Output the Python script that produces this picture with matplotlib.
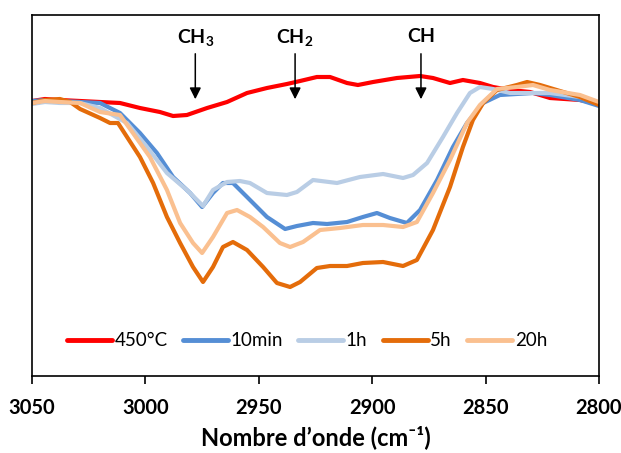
import numpy as np
import matplotlib
matplotlib.use("Agg")
import matplotlib.pyplot as plt

plt.rcParams['font.family'] = ['Lato', 'DejaVu Sans']
plt.rcParams['mathtext.fontset'] = 'custom'
plt.rcParams['mathtext.rm'] = 'Lato:bold'
plt.rcParams['mathtext.it'] = 'Lato:bold'
plt.rcParams['mathtext.bf'] = 'Lato:bold'

# spectres (nombre d'onde en cm-1, signal en unites arbitraires)
wn_450 = [3050, 3044.3, 3037.7, 3028.8, 3020, 3011.2, 3002.4, 2993.6, 2987.8, 2981.7,
          2972.8, 2964, 2955.2, 2946.4, 2937.6, 2931.8, 2924.4, 2918.6, 2911.1, 2906.3,
          2899.6, 2889.1, 2878.9, 2873.2, 2865.7, 2860, 2852.5, 2846.7, 2839.2, 2830.4,
          2821.6, 2808.4, 2800]
s_450 = [275, 277, 276, 275, 274, 273, 268, 264, 260, 261,
         268, 274, 283, 288, 292, 295, 299, 299, 293, 291,
         294, 298, 300, 298, 293, 296, 293, 289, 286, 284,
         278, 276, 272]

wn_10min = [3050, 3044.3, 3037.7, 3028.8, 3020, 3011.2, 3002.4, 2994.9, 2987.8, 2980.3,
            2975, 2970.2, 2965.8, 2961.4, 2955.2, 2946.4, 2938.4, 2933.2, 2926.1, 2919.9,
            2911.1, 2904.1, 2897.9, 2892.2, 2884.7, 2878.9, 2871.4, 2864.4, 2858.2, 2851.1,
            2843.7, 2829.1, 2821.6, 2808.4, 2800]
s_10min = [275, 276, 275, 274, 273, 263, 243, 223, 199, 183,
           169, 183, 193, 193, 179, 159, 147, 150, 153, 152,
           154, 159, 163, 158, 153, 166, 196, 229, 253, 273,
           281, 283, 281, 276, 270]

wn_1h = [3050, 3044.3, 3037.7, 3028.8, 3020, 3008.1, 2999.3, 2990.5, 2981.7, 2975.9,
         2974.6, 2970.2, 2964, 2958.3, 2953.9, 2946.4, 2937.6, 2933.2, 2926.1, 2915.5,
         2905.4, 2895.2, 2886.4, 2882, 2875.8, 2868.8, 2862.6, 2856.9, 2852.5, 2846.7,
         2839.2, 2821.6, 2808.4, 2800]
s_1h = [272, 274, 273, 273, 268, 253, 229, 203, 186, 173,
        170, 186, 194, 195, 193, 183, 181, 184, 196, 193,
        199, 202, 198, 201, 213, 239, 263, 283, 289, 287,
        283, 283, 279, 273]

wn_5h = [3050, 3044.3, 3037.7, 3033.2, 3028.8, 3020, 3015.6, 3012.1, 3008.1, 3002.4,
         2996.6, 2990.5, 2984.7, 2979, 2974.6, 2970.2, 2965.8, 2961.4, 2955.2, 2948.1,
         2942, 2936.2, 2931.8, 2924.4, 2918.6, 2911.1, 2904.1, 2895.2, 2886.4, 2880.3,
         2873.2, 2865.7, 2860, 2855.6, 2851.1, 2845, 2836.2, 2831.7, 2826, 2821.6,
         2808.4, 2800]
s_5h = [273, 276, 277, 274, 267, 258, 253, 253, 239, 219,
        193, 159, 133, 109, 94, 109, 129, 134, 126, 109,
        93, 89, 94, 108, 110, 110, 113, 114, 110, 116,
        146, 189, 229, 256, 273, 286, 291, 294, 291, 288,
        279, 271]

wn_20h = [3050, 3044.3, 3037.7, 3028.8, 3020, 3011.2, 3005.5, 2998, 2990.5, 2984.7,
          2979, 2975, 2970.2, 2964, 2959.6, 2953.9, 2948.1, 2940.7, 2936.2, 2930.5,
          2923, 2914.2, 2904.1, 2895.2, 2886.4, 2880.3, 2873.2, 2865.7, 2858.2, 2852.5,
          2845, 2836.2, 2829.1, 2821.6, 2808.4, 2800]
s_20h = [273, 275, 274, 273, 264, 261, 243, 219, 186, 153,
         133, 123, 139, 163, 166, 159, 149, 133, 129, 134,
         146, 148, 151, 151, 149, 154, 183, 216, 253, 271,
         287, 289, 291, 286, 281, 274]

labels = ['450°C', '10min', '1h', '5h', '20h']
colors = ['#FF0000', '#558ED5', '#B9CDE5', '#E46C0A', '#FAC090']

bandes = ['CH$_3$', 'CH$_2$', 'CH']
bandes_wn = [2978, 2934, 2878.5]

fig = plt.figure(figsize=(6.21, 4.53), dpi=100)
ax = fig.add_axes([32/621, 1-376/453, 567/621, 361/453])

series = [(wn_450, s_450), (wn_10min, s_10min), (wn_1h, s_1h), (wn_5h, s_5h), (wn_20h, s_20h)]
for (x, y), lab, c in zip(series, labels, colors):
    ax.plot(x, y, color=c, lw=3, label=lab, solid_joinstyle='round', solid_capstyle='round')

for txt, w in zip(bandes, bandes_wn):
    ax.annotate('', xy=(w, 274), xytext=(w, 325),
                arrowprops=dict(arrowstyle='-|>', color='black', lw=1.1, mutation_scale=17))
    ax.text(w, 339, txt, ha='center', va='center', fontsize=14, fontweight='bold')

ax.set_xlim(3050, 2800)
ax.set_ylim(0, 361)
ax.set_xticks([3050, 3000, 2950, 2900, 2850, 2800])
ax.set_yticks([])
ax.tick_params(axis='x', direction='out', length=6, width=1.2, pad=10, labelsize=14.5)
for lab in ax.get_xticklabels():
    lab.set_fontweight('bold')
for sp in ax.spines.values():
    sp.set_linewidth(1.2)
    sp.set_color('black')

ax.set_xlabel('Nombre d’onde (cm⁻¹)', fontsize=17, fontweight='bold', labelpad=5)

leg = ax.legend(loc='center', bbox_to_anchor=(0.485, 0.097), ncol=5, frameon=False,
                fontsize=13.5, handlelength=2.4, handletextpad=0.15, columnspacing=0.8)
for line in leg.get_lines():
    line.set_linewidth(3.5)

fig.savefig('out.png', dpi=100)
